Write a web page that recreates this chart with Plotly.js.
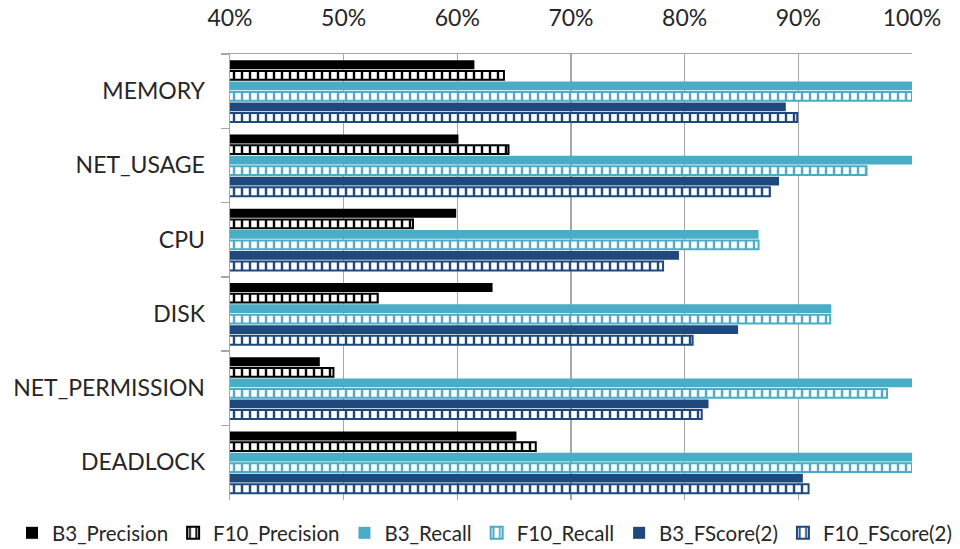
<!DOCTYPE html>
<html>
<head>
<meta charset="utf-8">
<script src="https://cdn.plot.ly/plotly-3.0.1.min.js"></script>
<style>
  html, body { margin: 0; padding: 0; background: #ffffff; }
  #chart { width: 960px; height: 549px; }
</style>
</head>
<body>
<div id="chart"></div>
<script>
// Fault categories, top to bottom
const categories = ['MEMORY', 'NET_USAGE', 'CPU', 'DISK', 'NET_PERMISSION', 'DEADLOCK'];

// Scores in percent for each detector configuration
const b3Precision  = [61.5, 60.1, 59.9, 63.1, 47.9, 65.2];
const f10Precision = [64.1, 64.5, 56.1, 53.0, 49.1, 66.9];
const b3Recall     = [100, 100, 86.5, 92.9, 100, 100];
const f10Recall    = [100, 96.0, 86.5, 92.8, 97.8, 100];
const b3FScore     = [88.9, 88.3, 79.5, 84.7, 82.1, 90.4];
const f10FScore    = [89.9, 87.5, 78.1, 80.7, 81.5, 90.9];

const xTicks = [40, 50, 60, 70, 80, 90, 100];

const BLACK = '#000000';
const LIGHT = '#4BACC6';
const DARK  = '#1F497D';

function solid(name, values, color) {
  return {
    type: 'bar', orientation: 'h', name: name,
    y: categories, x: values,
    marker: { color: color, line: { color: color, width: 0 } },
    hoverinfo: 'x+name'
  };
}

function hatched(name, values, color) {
  return {
    type: 'bar', orientation: 'h', name: name,
    y: categories, x: values,
    marker: {
      color: color,
      line: { color: color, width: 2 },
      pattern: { shape: '|', size: 8, solidity: 0.3, fgcolor: color, bgcolor: '#ffffff', fillmode: 'replace' }
    },
    hoverinfo: 'x+name'
  };
}

const data = [
  solid('B3_Precision', b3Precision, BLACK),
  hatched('F10_Precision', f10Precision, BLACK),
  solid('B3_Recall', b3Recall, LIGHT),
  hatched('F10_Recall', f10Recall, LIGHT),
  solid('B3_FScore(2)', b3FScore, DARK),
  hatched('F10_FScore(2)', f10FScore, DARK)
];

const FONT = 'Lato, "Open Sans", sans-serif';
const TEXT = '#262626';

// The paper spans the full width and bottom so the one-row legend has room;
// the axes are placed with their domains instead of margins.
const W = 960, H = 549, TOP = 54;
const paperH = H - TOP;

const layout = {
  width: W, height: H,
  margin: { l: 0, r: 0, t: TOP, b: 0, autoexpand: false },
  paper_bgcolor: '#ffffff', plot_bgcolor: '#ffffff',
  font: { family: FONT, color: TEXT, size: 20 },
  barmode: 'group',
  bargap: 0.15,
  bargroupgap: 0.15,
  showlegend: true,
  xaxis: {
    domain: [230 / W, 912 / W],
    side: 'top',
    range: [40, 100],
    tickvals: xTicks,
    ticktext: xTicks.map(v => v + '%'),
    showgrid: true, gridcolor: '#A6A6A6', gridwidth: 1.5,
    showline: true, linecolor: '#A6A6A6', linewidth: 1.5,
    zeroline: false,
    ticks: '',
    ticklabelstandoff: 17,
    tickfont: { size: 23, family: FONT, color: TEXT },
    automargin: false,
    fixedrange: true
  },
  yaxis: {
    domain: [49.5 / paperH, 1],
    autorange: 'reversed',
    type: 'category',
    showline: true, linecolor: '#A6A6A6', linewidth: 1.5,
    ticks: 'outside', tickson: 'boundaries', ticklen: 8, tickcolor: '#A6A6A6', tickwidth: 1.5,
    ticklabelstandoff: 19,
    tickfont: { size: 23, family: FONT, color: TEXT },
    showgrid: false, zeroline: false,
    automargin: false,
    fixedrange: true
  },
  legend: {
    orientation: 'h',
    x: 12 / W, xanchor: 'left',
    y: 16 / paperH, yanchor: 'middle',
    font: { size: 20.5, family: FONT, color: TEXT },
    traceorder: 'normal'
  }
};

Plotly.newPlot('chart', data, layout, { displayModeBar: false, staticPlot: true });
</script>
</body>
</html>
